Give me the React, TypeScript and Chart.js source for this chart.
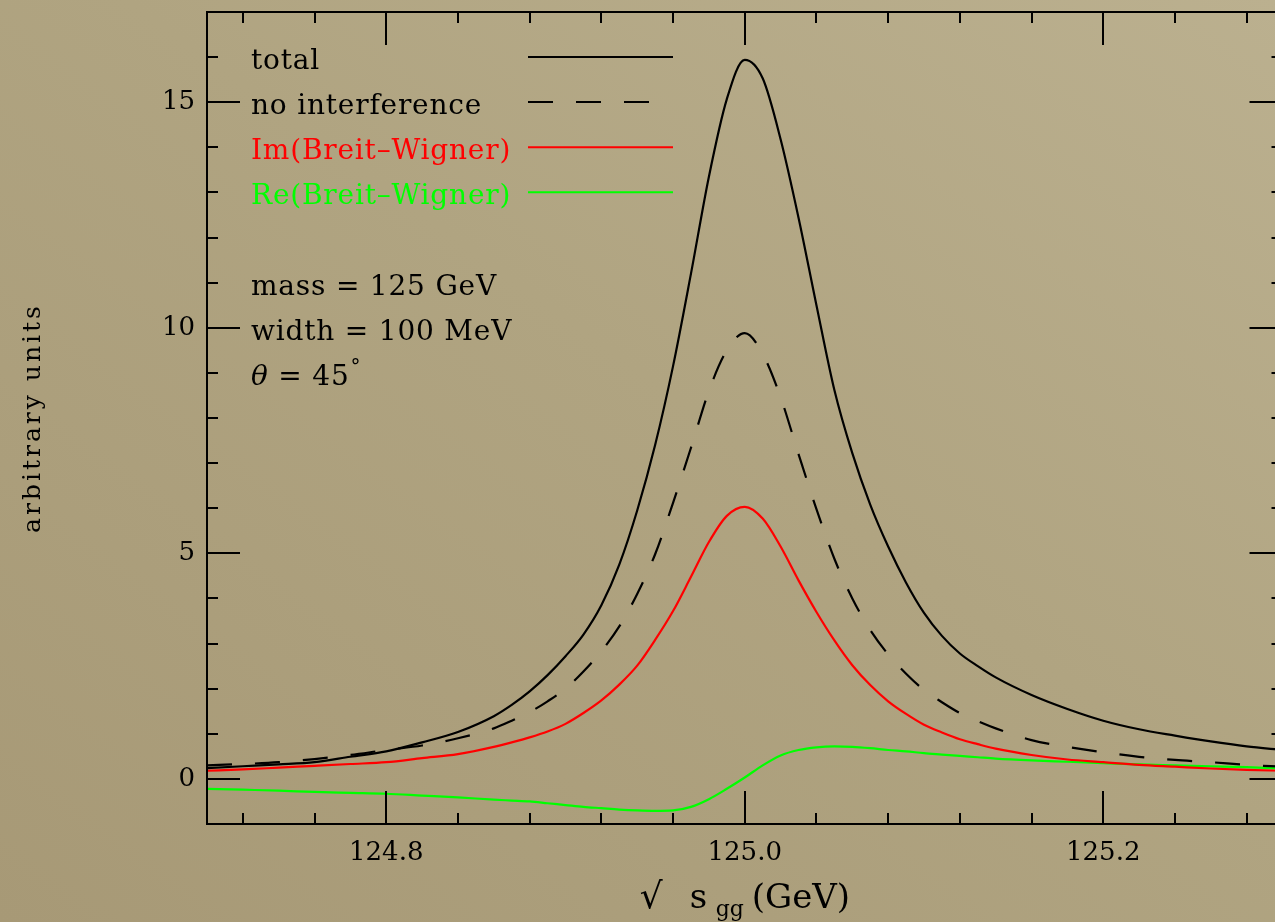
import { useEffect, useRef } from 'react';
import { Chart, registerables } from 'chart.js';

Chart.register(...registerables);

// Diphoton invariant mass (GeV) at which the line shapes are sampled
const ENERGY = [
  124.7, 124.72, 124.74, 124.76, 124.78, 124.8, 124.82, 124.84, 124.86, 124.87, 124.88,
  124.89, 124.9, 124.91, 124.92, 124.93, 124.94, 124.95, 124.96, 124.97, 124.98, 124.99, 125.0,
  125.01, 125.02, 125.03, 125.04, 125.05, 125.06, 125.07, 125.08, 125.09, 125.1, 125.11, 125.12, 125.13,
  125.14, 125.16, 125.18, 125.2, 125.22, 125.24, 125.26, 125.28, 125.3,
];

const TOTAL = [
  0.24, 0.28, 0.32, 0.37, 0.49, 0.61, 0.81, 1.04, 1.39, 1.64, 1.94,
  2.3, 2.72, 3.2, 3.85, 4.75, 5.95, 7.4, 9.15, 11.2, 13.35, 15.07, 15.94,
  15.53, 14.18, 12.44, 10.5, 8.62, 7.22, 6.08, 5.15, 4.35, 3.68, 3.17, 2.78, 2.5,
  2.25, 1.86, 1.55, 1.29, 1.1, 0.96, 0.83, 0.72, 0.64,
];

const NO_INTERFERENCE = [
  0.3, 0.33, 0.37, 0.44, 0.53, 0.64, 0.74, 0.9, 1.12, 1.29, 1.48,
  1.72, 2.0, 2.38, 2.83, 3.38, 4.1, 4.98, 6.12, 7.34, 8.6, 9.5, 9.88,
  9.42, 8.46, 7.2, 5.98, 4.88, 4.0, 3.3, 2.76, 2.33, 1.97, 1.7, 1.46, 1.28,
  1.12, 0.86, 0.71, 0.59, 0.49, 0.42, 0.37, 0.31, 0.27,
];

const IM_BREIT_WIGNER = [
  0.18, 0.21, 0.25, 0.29, 0.33, 0.37, 0.46, 0.55, 0.71, 0.81, 0.92,
  1.05, 1.22, 1.46, 1.74, 2.09, 2.51, 3.08, 3.72, 4.48, 5.25, 5.83, 6.03,
  5.77, 5.15, 4.4, 3.7, 3.07, 2.52, 2.08, 1.72, 1.44, 1.2, 1.03, 0.88, 0.77,
  0.67, 0.53, 0.43, 0.37, 0.31, 0.27, 0.23, 0.2, 0.18,
];

const RE_BREIT_WIGNER = [
  -0.22, -0.24, -0.26, -0.29, -0.31, -0.33, -0.37, -0.41, -0.46, -0.48, -0.5,
  -0.54, -0.58, -0.62, -0.65, -0.68, -0.7, -0.71, -0.7, -0.62, -0.45, -0.22, 0.03,
  0.3, 0.52, 0.64, 0.7, 0.72, 0.71, 0.68, 0.64, 0.61, 0.57, 0.54, 0.51, 0.48,
  0.45, 0.41, 0.38, 0.35, 0.32, 0.3, 0.28, 0.26, 0.23,
];

// Axis ranges and tick positions
const X_MIN = 124.7;
const X_MAX = 125.3;
const Y_MIN = -1;
const Y_MAX = 17;
const X_LABELS = [124.8, 125.0, 125.2];
const X_MINOR = [124.72, 124.76, 124.84, 124.88, 124.92, 124.96, 125.04, 125.08, 125.12, 125.16, 125.24, 125.28];
const Y_LABELS = [0, 5, 10, 15];
const Y_MINOR = [1, 2, 3, 4, 6, 7, 8, 9, 11, 12, 13, 14, 16];

const LEGEND_LABELS = ['total', 'no interference', 'Im(Breit\u2013Wigner)', 'Re(Breit\u2013Wigner)'];
const LEGEND_COLORS = ['#000000', '#000000', '#ff0000', '#00ff00'];
const LEGEND_DASHES = [[], [25, 23], [], []];

const NOTES = ['mass = 125 GeV', 'width = 100 MeV'];
const ANGLE_TEXT = ' = 45';
const X_TITLE = ['\u221A', 's', 'gg', '(GeV)'];
const Y_TITLE = 'arbitrary units';

const SERIF = '"DejaVu Serif", serif';
const CANVAS_W = 1290;
const CANVAS_H = 922;

const annotationPlugin = {
  id: 'frameAndText',
  afterDatasetsDraw(chart: any) {
    const { ctx, chartArea: a, scales } = chart;
    const xs = scales.x;
    const ys = scales.y;
    ctx.save();
    ctx.strokeStyle = '#000';
    ctx.lineWidth = 2;
    ctx.setLineDash([]);
    ctx.lineCap = 'butt';
    ctx.strokeRect(a.left, a.top, a.right - a.left, a.bottom - a.top);
    const seg = (x1: number, y1: number, x2: number, y2: number) => {
      ctx.beginPath();
      ctx.moveTo(x1, y1);
      ctx.lineTo(x2, y2);
      ctx.stroke();
    };
    const xTicks = (vals: number[], len: number) => {
      for (const v of vals) {
        const p = Math.round(xs.getPixelForValue(v));
        seg(p, a.bottom, p, a.bottom - len);
        seg(p, a.top, p, a.top + len);
      }
    };
    const yTicks = (vals: number[], len: number) => {
      for (const v of vals) {
        const p = Math.round(ys.getPixelForValue(v));
        seg(a.left, p, a.left + len, p);
        seg(a.right, p, a.right - len, p);
      }
    };
    xTicks(X_LABELS, 33);
    xTicks(X_MINOR, 11);
    yTicks(Y_LABELS, 33);
    yTicks(Y_MINOR, 11);
    ctx.restore();
  },
  afterDraw(chart: any) {
    const { ctx, chartArea: a } = chart;
    ctx.save();
    const rowTop = a.top + 46;
    const rowStep = 45.1;
    const textX = a.left + 44;
    const lineX1 = a.left + 321;
    const lineX2 = a.left + 466;

    // legend
    ctx.font = `28px ${SERIF}`;
    (ctx as any).letterSpacing = '0.8px';
    ctx.textAlign = 'left';
    ctx.textBaseline = 'alphabetic';
    LEGEND_LABELS.forEach((label, i) => {
      const cy = rowTop + i * rowStep;
      ctx.fillStyle = LEGEND_COLORS[i];
      ctx.fillText(label, textX, cy + 10.5);
      ctx.strokeStyle = LEGEND_COLORS[i];
      ctx.lineWidth = 2;
      ctx.setLineDash(LEGEND_DASHES[i]);
      ctx.beginPath();
      ctx.moveTo(lineX1, cy - 1);
      ctx.lineTo(LEGEND_DASHES[i].length ? lineX2 - 2 : lineX2, cy - 1);
      ctx.stroke();
    });
    ctx.setLineDash([]);

    // parameter notes
    ctx.fillStyle = '#000';
    NOTES.forEach((t, i) => {
      const cy = rowTop + (5 + i) * rowStep;
      ctx.fillText(t, textX, cy + 11);
    });
    const thetaY = rowTop + 7 * rowStep + 11;
    ctx.font = `italic 28px ${SERIF}`;
    ctx.fillText('\u03B8', textX, thetaY);
    let cx = textX + ctx.measureText('\u03B8').width;
    ctx.font = `28px ${SERIF}`;
    ctx.fillText(ANGLE_TEXT, cx, thetaY);
    cx += ctx.measureText(ANGLE_TEXT).width;
    ctx.font = `20px ${SERIF}`;
    ctx.fillText('\u00B0', cx + 1, thetaY - 12);

    // x-axis title
    (ctx as any).letterSpacing = '0px';
    const mid = (a.left + a.right) / 2;
    const base = a.bottom + 84;
    ctx.font = `36px ${SERIF}`;
    ctx.fillText(X_TITLE[0], mid - 105, base);
    ctx.font = `34px ${SERIF}`;
    ctx.fillText(X_TITLE[1], mid - 55, base);
    ctx.font = `22px ${SERIF}`;
    ctx.fillText(X_TITLE[2], mid - 29, base + 8);
    ctx.font = `34px ${SERIF}`;
    ctx.fillText(X_TITLE[3], mid + 7, base);

    // y-axis title
    ctx.translate(a.left - 174, (a.top + a.bottom) / 2);
    ctx.rotate(-Math.PI / 2);
    ctx.font = `25px ${SERIF}`;
    (ctx as any).letterSpacing = '3px';
    ctx.textAlign = 'center';
    ctx.textBaseline = 'middle';
    ctx.fillText(Y_TITLE, 0, 0);
    ctx.restore();
  },
};

function series(values: number[]) {
  return ENERGY.map((x, i) => ({ x, y: values[i] }));
}

export default function App() {
  const canvasRef = useRef<HTMLCanvasElement | null>(null);

  useEffect(() => {
    const canvas = canvasRef.current;
    if (!canvas) return;
    const common = {
      pointRadius: 0,
      borderWidth: 2.2,
      fill: false,
      cubicInterpolationMode: 'monotone' as const,
    };
    const chart = new Chart(canvas, {
      type: 'line',
      data: {
        datasets: [
          { ...common, label: LEGEND_LABELS[0], data: series(TOTAL), borderColor: LEGEND_COLORS[0] },
          { ...common, label: LEGEND_LABELS[1], data: series(NO_INTERFERENCE), borderColor: LEGEND_COLORS[1], borderDash: LEGEND_DASHES[1] },
          { ...common, label: LEGEND_LABELS[2], data: series(IM_BREIT_WIGNER), borderColor: LEGEND_COLORS[2] },
          { ...common, label: LEGEND_LABELS[3], data: series(RE_BREIT_WIGNER), borderColor: LEGEND_COLORS[3] },
        ],
      },
      options: {
        animation: false,
        responsive: false,
        devicePixelRatio: 1,
        events: [],
        layout: { autoPadding: false, padding: { left: 0, top: 12, right: CANVAS_W - 1282.5, bottom: 0 } },
        plugins: { legend: { display: false }, tooltip: { enabled: false }, title: { display: false } },
        scales: {
          x: {
            type: 'linear',
            min: X_MIN,
            max: X_MAX,
            grid: { display: false, drawTicks: false },
            border: { display: false },
            afterBuildTicks: (s: any) => { s.ticks = X_LABELS.map((value) => ({ value })); },
            afterFit: (s: any) => {
              s.height = CANVAS_H - 824;
              s.paddingLeft = 0; s.paddingRight = 0; s.paddingTop = 0; s.paddingBottom = 0;
            },
            ticks: {
              autoSkip: false,
              maxRotation: 0,
              minRotation: 0,
              padding: 14,
              color: '#000',
              font: { family: SERIF, size: 26 },
              callback: (v: any) => Number(v).toFixed(1),
            },
          },
          y: {
            type: 'linear',
            min: Y_MIN,
            max: Y_MAX,
            grid: { display: false, drawTicks: false },
            border: { display: false },
            afterBuildTicks: (s: any) => { s.ticks = Y_LABELS.map((value) => ({ value })); },
            afterFit: (s: any) => {
              s.width = 207;
              s.paddingLeft = 0; s.paddingRight = 0; s.paddingTop = 0; s.paddingBottom = 0;
            },
            ticks: {
              padding: 12,
              color: '#000',
              font: { family: SERIF, size: 26 },
              callback: (v: any) => String(v),
            },
          },
        },
      },
      plugins: [annotationPlugin],
    } as any);
    return () => chart.destroy();
  }, []);

  return (
    <div
      style={{
        position: 'fixed',
        left: 0,
        top: 0,
        width: 1275,
        height: 922,
        overflow: 'hidden',
        background: 'linear-gradient(to bottom left, #bbb08f 0%, #b0a481 45%, #a79976 100%)',
      }}
    >
      <canvas ref={canvasRef} width={CANVAS_W} height={CANVAS_H} style={{ display: 'block' }} />
    </div>
  );
}
